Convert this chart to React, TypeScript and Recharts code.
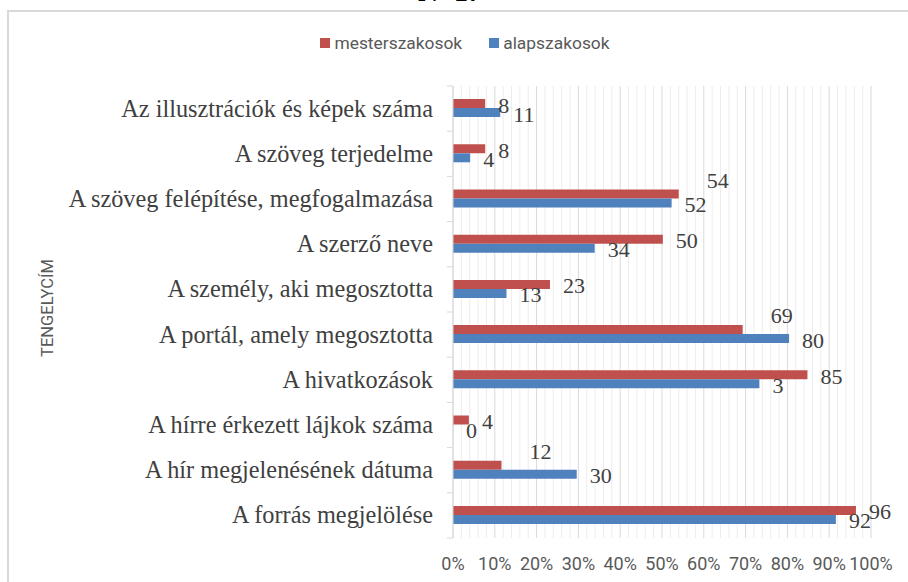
import { BarChart, Bar, XAxis, YAxis, CartesianGrid, LabelList } from 'recharts'

const categories = [
  'Az illusztrációk és képek száma',
  'A szöveg terjedelme',
  'A szöveg felépítése, megfogalmazása',
  'A szerző neve',
  'A személy, aki megosztotta',
  'A portál, amely megosztotta',
  'A hivatkozások',
  'A hírre érkezett lájkok száma',
  'A hír megjelenésének dátuma',
  'A forrás megjelölése',
]
const mesterValues = [7.7, 7.7, 54, 50.2, 23.2, 69.3, 84.8, 3.8, 11.6, 96.4]
const alapValues = [11.3, 4.1, 52.3, 33.9, 12.8, 80.4, 73.3, 0, 29.6, 91.6]
const mesterLabels = ['8', '8', '54', '50', '23', '69', '85', '4', '12', '96']
const alapLabels = ['11', '4', '52', '34', '13', '80', '3', '0', '30', '92']
// labels that were dragged up and to the right in the original
const liftedMester = [2, 5, 8]

const majorTicks = [0, 10, 20, 30, 40, 50, 60, 70, 80, 90, 100]
const minorTicks = [
  2, 4, 6, 8, 12, 14, 16, 18, 22, 24, 26, 28, 32, 34, 36, 38, 42, 44, 46, 48,
  52, 54, 56, 58, 62, 64, 66, 68, 72, 74, 76, 78, 82, 84, 86, 88, 92, 94, 96, 98,
]

const series = [
  { key: 'mester', name: 'mesterszakosok', color: '#C0504D' },
  { key: 'alap', name: 'alapszakosok', color: '#4F81BD' },
]

const data = categories.map((name, i) => ({
  name,
  mester: mesterValues[i],
  alap: alapValues[i],
}))

const W = 908
const H = 582
const TOP = 86
const XAXIS_H = 44
const BAND = (H - TOP - XAXIS_H) / categories.length

const serif = '"Liberation Serif", "Times New Roman", serif'
const sans = 'Roboto, "Open Sans", sans-serif'

function CategoryTick(props: any) {
  const { x, y, payload, index } = props
  const half = payload?.offset ?? BAND / 2
  const last = index === categories.length - 1
  return (
    <g>
      <line x1={x - 6} x2={x} y1={y - half} y2={y - half} stroke="#D9D9D9" />
      {last && <line x1={x - 6} x2={x} y1={y + half} y2={y + half} stroke="#D9D9D9" />}
      <text
        x={x - 20}
        y={y + 8}
        textAnchor="end"
        fontFamily={serif}
        fontSize={24.3}
        fill="#404040"
      >
        {payload.value}
      </text>
    </g>
  )
}

function valueLabel(labels: string[], lifted: number[]) {
  return (props: any) => {
    const { x, y, width, height, index } = props
    const up = lifted.includes(index)
    const tx = x + Math.max(width, 0) + (up ? 28 : 13)
    const ty = y + height / 2 + (up ? -14 : 1.5) + 7.5
    return (
      <text x={tx} y={ty} fontFamily={serif} fontSize={22} fill="#404040">
        {labels[index]}
      </text>
    )
  }
}

export default function App() {
  return (
    <div
      style={{
        position: 'absolute',
        left: 0,
        top: 0,
        width: W,
        height: H,
        overflow: 'hidden',
        background: '#fff',
      }}
    >
      <div
        style={{
          position: 'absolute',
          left: 7,
          top: 10,
          width: 940,
          height: 620,
          border: '2px solid #D9D9D9',
        }}
      />
      <div
        style={{
          position: 'absolute',
          left: 350,
          width: 200,
          top: -22,
          textAlign: 'center',
          fontFamily: serif,
          fontWeight: 'bold',
          fontSize: 28,
          lineHeight: '28px',
          color: '#000',
        }}
      >
        N=17
      </div>
      <div
        style={{
          position: 'absolute',
          left: 11,
          top: 33,
          width: W,
          height: 20,
          display: 'flex',
          justifyContent: 'center',
          alignItems: 'center',
          fontFamily: sans,
          fontSize: 17.4,
          color: '#595959',
        }}
      >
        {series.map((s, i) => (
          <div
            key={s.key}
            style={{ display: 'flex', alignItems: 'center', marginLeft: i ? 27 : 0 }}
          >
            <span
              style={{ width: 10, height: 10, background: s.color, marginRight: 4 }}
            />
            <span>{s.name}</span>
          </div>
        ))}
      </div>
      <div
        style={{
          position: 'absolute',
          left: 48 - 60,
          top: 308 - 10,
          width: 120,
          height: 20,
          lineHeight: '20px',
          textAlign: 'center',
          transform: 'rotate(-90deg)',
          fontFamily: sans,
          fontSize: 16.5,
          color: '#595959',
        }}
      >
        TENGELYCÍM
      </div>
      <div style={{ position: 'absolute', left: 0, top: 0 }}>
        <BarChart
          width={W}
          height={H}
          data={data}
          layout="vertical"
          margin={{ top: TOP, right: 37, bottom: 0, left: 0 }}
          barGap={0}
          barCategoryGap="29%"
        >
          <CartesianGrid
            horizontal={false}
            verticalValues={minorTicks}
            stroke="#EDEDED"
          />
          <CartesianGrid
            horizontal={false}
            verticalValues={majorTicks}
            stroke="#D9D9D9"
          />
          <XAxis
            type="number"
            domain={[0, 100]}
            ticks={majorTicks}
            tickFormatter={(v) => `${v}%`}
            axisLine={false}
            tickLine={false}
            tickSize={0}
            tickMargin={19}
            height={XAXIS_H}
            interval={0}
            tick={{ fontFamily: sans, fontSize: 18, fill: '#595959' }}
          />
          <YAxis
            type="category"
            dataKey="name"
            width={453}
            axisLine={{ stroke: '#D9D9D9' }}
            tickLine={false}
            tickSize={0}
            tickMargin={0}
            interval={0}
            tick={<CategoryTick />}
          />
          {series.map((s) => (
            <Bar
              key={s.key}
              dataKey={s.key}
              name={s.name}
              fill={s.color}
              minPointSize={0.1}
              isAnimationActive={false}
            >
              <LabelList
                dataKey={s.key}
                content={valueLabel(
                  s.key === 'mester' ? mesterLabels : alapLabels,
                  s.key === 'mester' ? liftedMester : [],
                )}
              />
            </Bar>
          ))}
        </BarChart>
      </div>
    </div>
  )
}
